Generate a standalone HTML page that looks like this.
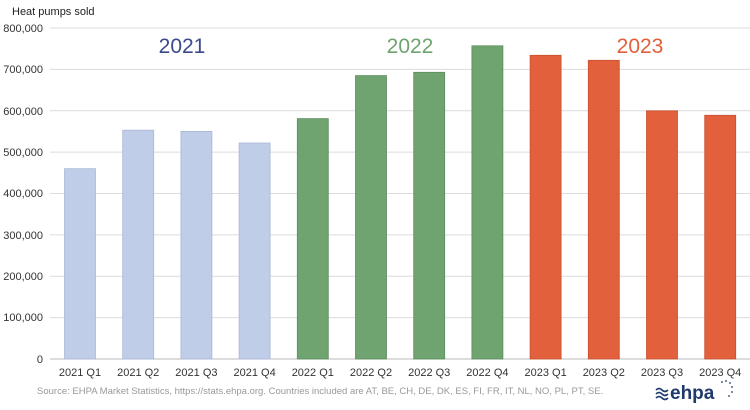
<!DOCTYPE html>
<html><head><meta charset="utf-8"><style>body{margin:0;background:#fff}svg{display:block;font-family:"Liberation Sans",sans-serif}</style></head><body>
<svg width="750" height="410" viewBox="0 0 750 410">
<text x="12" y="15" font-size="11" fill="#222">Heat pumps sold</text>
<g stroke="#dcdcdc" stroke-width="1">
<line x1="50" x2="750" y1="28" y2="28"/><line x1="50" x2="750" y1="69.4" y2="69.4"/><line x1="50" x2="750" y1="110.75" y2="110.75"/><line x1="50" x2="750" y1="152.1" y2="152.1"/><line x1="50" x2="750" y1="193.5" y2="193.5"/><line x1="50" x2="750" y1="234.9" y2="234.9"/><line x1="50" x2="750" y1="276.25" y2="276.25"/><line x1="50" x2="750" y1="317.6" y2="317.6"/><line x1="50" x2="750" y1="359" y2="359" stroke="#bbb"/>
</g>
<g font-size="11" fill="#333" text-anchor="end">
<text x="43" y="32">800,000</text><text x="43" y="73">700,000</text><text x="43" y="115">600,000</text><text x="43" y="156">500,000</text><text x="43" y="197">400,000</text><text x="43" y="239">300,000</text><text x="43" y="280">200,000</text><text x="43" y="321">100,000</text><text x="43" y="363">0</text>
</g>
<g stroke-width="0.8">
<rect x="64.5" y="168.7" width="31" height="190.3" fill="#bfcde8" stroke="#a9b8d6"/>
<rect x="122.7" y="130.2" width="31" height="228.8" fill="#bfcde8" stroke="#a9b8d6"/>
<rect x="180.9" y="131.4" width="31" height="227.6" fill="#bfcde8" stroke="#a9b8d6"/>
<rect x="239.1" y="143" width="31" height="216" fill="#bfcde8" stroke="#a9b8d6"/>
<rect x="297.3" y="118.6" width="31" height="240.4" fill="#6fa36f" stroke="#5e8e5e"/>
<rect x="355.5" y="75.6" width="31" height="283.4" fill="#6fa36f" stroke="#5e8e5e"/>
<rect x="413.7" y="72.3" width="31" height="286.7" fill="#6fa36f" stroke="#5e8e5e"/>
<rect x="471.9" y="45.8" width="31" height="313.2" fill="#6fa36f" stroke="#5e8e5e"/>
<rect x="530.1" y="55.3" width="31" height="303.7" fill="#e2603c" stroke="#c9502f"/>
<rect x="588.3" y="60.3" width="31" height="298.7" fill="#e2603c" stroke="#c9502f"/>
<rect x="646.5" y="110.8" width="31" height="248.2" fill="#e2603c" stroke="#c9502f"/>
<rect x="704.7" y="115.3" width="31" height="243.7" fill="#e2603c" stroke="#c9502f"/>
</g>
<g font-size="11" fill="#333" text-anchor="middle">
<text x="80" y="376">2021 Q1</text><text x="138.2" y="376">2021 Q2</text><text x="196.4" y="376">2021 Q3</text><text x="254.6" y="376">2021 Q4</text><text x="312.8" y="376">2022 Q1</text><text x="371" y="376">2022 Q2</text><text x="429.2" y="376">2022 Q3</text><text x="487.4" y="376">2022 Q4</text><text x="545.6" y="376">2023 Q1</text><text x="603.8" y="376">2023 Q2</text><text x="662" y="376">2023 Q3</text><text x="720.2" y="376">2023 Q4</text>
</g>
<g font-size="21" text-anchor="middle">
<text x="182" y="53" fill="#3b4a8c">2021</text>
<text x="410" y="53" fill="#6fa36f">2022</text>
<text x="640" y="53" fill="#e2603c">2023</text>
</g>
<text x="37" y="394" font-size="9.5" fill="#999">Source: EHPA Market Statistics, https://stats.ehpa.org. Countries included are AT, BE, CH, DE, DK, ES, FI, FR, IT, NL, NO, PL, PT, SE.</text>
<g fill="none" stroke="#1f3a6e" stroke-width="1.6">
<path d="M656 390 q3 -3 6 0 t6 0"/><path d="M656 394 q3 -3 6 0 t6 0"/><path d="M656 398 q3 -3 6 0 t6 0"/>
</g>
<text x="670" y="399" font-size="19" font-weight="bold" fill="#1f3a6e">ehpa</text>
<g fill="#1f3a6e"><circle cx="722" cy="382" r="0.9"/><circle cx="726" cy="381" r="0.9"/><circle cx="730" cy="383" r="0.9"/><circle cx="732" cy="387" r="0.9"/><circle cx="732" cy="392" r="0.9"/><circle cx="729" cy="396" r="0.9"/></g>
</svg>
</body></html>
